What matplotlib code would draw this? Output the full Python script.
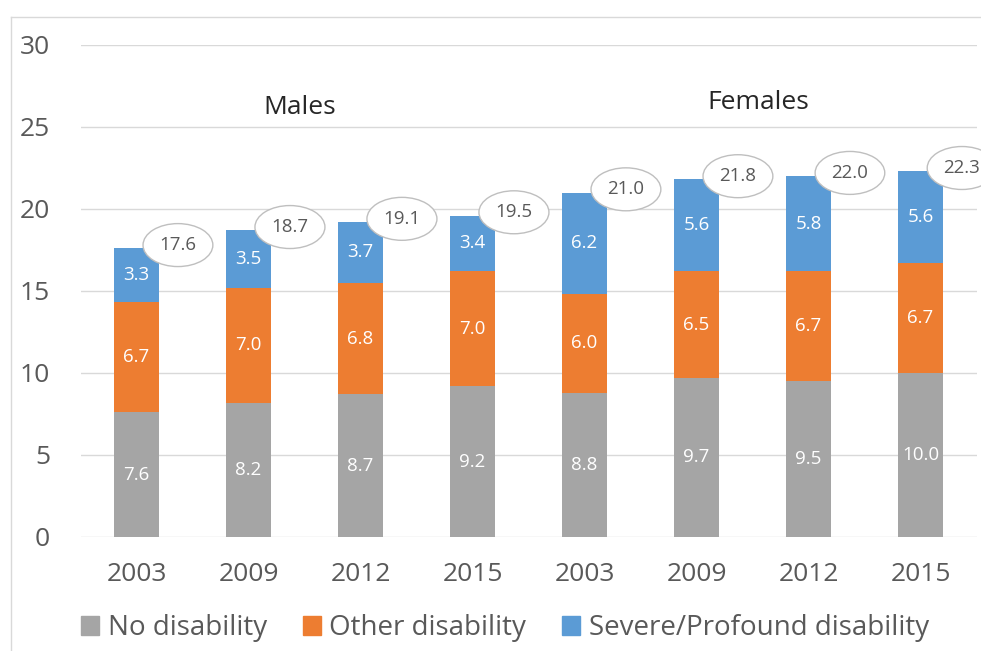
import matplotlib
matplotlib.use("Agg")
import matplotlib.pyplot as plt
from matplotlib.lines import Line2D
import numpy as np

years = ["2003", "2009", "2012", "2015", "2003", "2009", "2012", "2015"]
no_disability = [7.6, 8.2, 8.7, 9.2, 8.8, 9.7, 9.5, 10.0]
other_disability = [6.7, 7.0, 6.8, 7.0, 6.0, 6.5, 6.7, 6.7]
severe_disability = [3.3, 3.5, 3.7, 3.4, 6.2, 5.6, 5.8, 5.6]
totals = [17.6, 18.7, 19.1, 19.5, 21.0, 21.8, 22.0, 22.3]
group_labels = ["Males", "Females"]
series_names = ["No disability", "Other disability", "Severe/Profound disability"]
colors = ["#A5A5A5", "#ED7D31", "#5B9BD5"]
text_color = "#595959"

plt.rcParams["font.family"] = ["Open Sans", "DejaVu Sans"]

fig = plt.figure(figsize=(9.81, 6.51), dpi=100)
ax = fig.add_axes([80.5/981, 1-537/651, 896/981, (537-45)/651])

x = np.arange(len(years))
w = 0.40
series = [no_disability, other_disability, severe_disability]
bottom = np.zeros(len(years))
for vals, col, name in zip(series, colors, series_names):
    vals = np.array(vals)
    ax.bar(x, vals, w, bottom=bottom, color=col, label=name, zorder=2)
    for xi, b, v in zip(x, bottom, vals):
        ax.text(xi, b + v/2, f"{v:.1f}", ha="center", va="center",
                color="white", fontsize=13.5, zorder=3)
    bottom = bottom + vals

for xi, top, t in zip(x, bottom, totals):
    ax.annotate(f"{t:.1f}", xy=(xi + w/2 - 0.02, top - 0.05), xytext=(xi + 0.37, top + 0.2),
                ha="center", va="center", color=text_color, fontsize=13.5, zorder=5,
                bbox=dict(boxstyle="ellipse,pad=0.33", fc="white", ec="#BFBFBF", lw=1.0),
                arrowprops=dict(arrowstyle="wedge,tail_width=0.6,shrink_factor=0.5",
                                fc="white", ec="#BFBFBF", lw=1.0, shrinkA=0, shrinkB=0,
                                patchA=None),
                annotation_clip=False)

ax.set_ylim(0, 30)
ax.set_xlim(-0.5, 7.5)
ax.set_yticks([0, 5, 10, 15, 20, 25, 30])
ax.set_xticks(x)
ax.set_xticklabels(years)
ax.yaxis.grid(True, color="#D9D9D9", lw=1.0, zorder=0)
ax.set_axisbelow(True)
for s in ax.spines.values():
    s.set_visible(False)
ax.tick_params(axis="both", length=0, colors=text_color, labelsize=19)
ax.tick_params(axis="y", pad=22)
ax.tick_params(axis="x", pad=18)

ax.text(1.46, 26.2, group_labels[0], ha="center", va="center", fontsize=19, color="#262626")
ax.text(5.55, 26.5, group_labels[1], ha="center", va="center", fontsize=19, color="#262626")

handles = [plt.Rectangle((0, 0), 1, 1, color=c) for c in colors]
fig.legend(handles, series_names, loc="center", bbox_to_anchor=(505/981, 1-628/651),
           ncol=3, frameon=False, fontsize=20, handlelength=0.65, handleheight=0.65,
           handletextpad=0.3, columnspacing=1.3, labelcolor=text_color)

fig.add_artist(Line2D([11/981, 11/981], [0, 1-17/651], transform=fig.transFigure, color="#D9D9D9", lw=1))
fig.add_artist(Line2D([11/981, 1], [1-17/651, 1-17/651], transform=fig.transFigure, color="#D9D9D9", lw=1))

fig.savefig("out.png", dpi=100)
